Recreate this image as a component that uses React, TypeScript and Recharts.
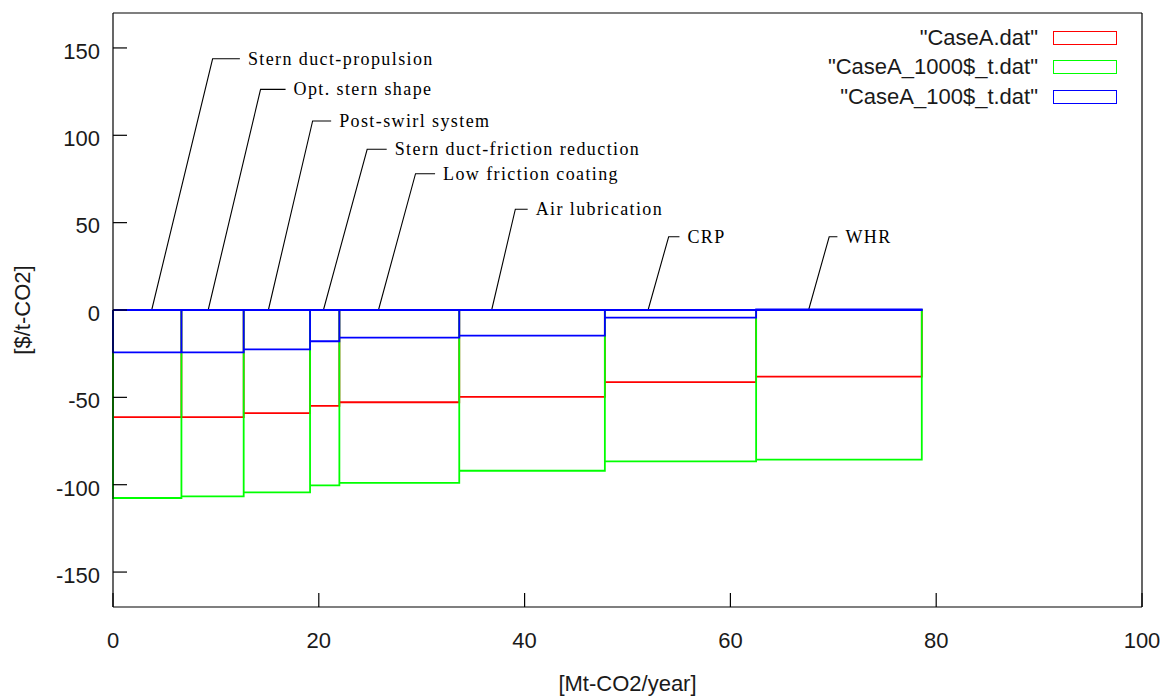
import React from 'react';
import { ComposedChart, Line, XAxis, YAxis, Legend } from 'recharts';

// step boundaries along the x axis [Mt-CO2/year]
const BOUNDS = [0, 6.65, 12.7, 19.15, 22.0, 33.65, 47.8, 62.5, 78.6];

// abatement cost per measure [$/t-CO2]
const CASE_A = [-61.3, -61.3, -59.0, -54.9, -52.8, -49.7, -41.3, -38.1];
const CASE_A_1000 = [-107.6, -106.7, -104.4, -100.4, -99.0, -92.0, -86.7, -85.7];
const CASE_A_100 = [-24.2, -24.2, -22.5, -17.9, -15.8, -14.7, -4.4, 0.4];

const SERIES_NAMES = ['"CaseA.dat"', '"CaseA_1000$_t.dat"', '"CaseA_100$_t.dat"'];
const SERIES_COLORS = ['#ff0000', '#00ff00', '#0000ff'];

// measure labels with leader lines (data coords)
const LABEL_NAMES = [
    'Stern duct-propulsion',
    'Opt. stern shape',
    'Post-swirl system',
    'Stern duct-friction reduction',
    'Low friction coating',
    'Air lubrication',
    'CRP',
    'WHR',
];
const LABEL_BASE_X = [3.76, 9.25, 15.1, 20.45, 25.8, 36.8, 52.0, 67.6];
const LABEL_ELBOW_X = [9.68, 14.34, 19.4, 24.7, 29.4, 39.1, 54.0, 69.6];
const LABEL_ELBOW_Y = [143.8, 126.3, 108.2, 92.0, 78.0, 57.7, 41.9, 41.9];
const LABEL_END_X = [12.33, 16.77, 21.2, 26.6, 31.3, 40.3, 55.05, 70.4];

const X_TICKS = [0, 20, 40, 60, 80, 100];
const Y_TICKS = [-150, -100, -50, 0, 50, 100, 150];

const SANS = '"Liberation Sans", Arial, sans-serif';
const SERIF = '"Liberation Serif", "Times New Roman", serif';
const TEXT = '#1a1a1a';

// outline of the boxes: every box drawn from 0 to its value
function boxPath(values: number[]) {
    const pts: { x: number; y: number }[] = [{ x: BOUNDS[0], y: 0 }];
    values.forEach((v, i) => {
        pts.push({ x: BOUNDS[i], y: v });
        pts.push({ x: BOUNDS[i + 1], y: v });
        pts.push({ x: BOUNDS[i + 1], y: 0 });
    });
    pts.push({ x: BOUNDS[0], y: 0 });
    return pts;
}

const SERIES = [CASE_A, CASE_A_1000, CASE_A_100].map((vals, i) => ({
    name: SERIES_NAMES[i],
    color: SERIES_COLORS[i],
    data: boxPath(vals),
}));

const LEADERS = LABEL_NAMES.map((name, i) => ({
    name,
    data: [
        { x: LABEL_BASE_X[i], y: 0 },
        { x: LABEL_ELBOW_X[i], y: LABEL_ELBOW_Y[i] },
        { x: LABEL_END_X[i], y: LABEL_ELBOW_Y[i] },
    ],
}));

const noTick = () => <g />;

function LegendBox({ payload }: any) {
    const items = SERIES_NAMES.map((n) => (payload || []).find((p: any) => p.value === n)).filter(Boolean);
    return (
        <div>
            {items.map((p: any) => (
                <div key={p.value} style={{ display: 'flex', justifyContent: 'flex-end', alignItems: 'center', height: 29.5 }}>
                    <span style={{ fontFamily: SANS, fontSize: 22, color: TEXT, marginRight: 15, whiteSpace: 'nowrap' }}>{p.value}</span>
                    <span style={{ display: 'inline-block', width: 62, height: 12, border: `1.8px solid ${p.color}` }} />
                </div>
            ))}
        </div>
    );
}

export default function App() {
    return (
        <div style={{ position: 'absolute', left: 0, top: 0, background: '#fff' }}>
            <ComposedChart width={1171} height={700} margin={{ top: 12, right: 28, left: 13, bottom: 33 }}>
                <XAxis xAxisId="b" type="number" dataKey="x" domain={[0, 100]} ticks={X_TICKS} height={60}
                    axisLine={{ stroke: '#000', strokeWidth: 1.2 }} tickLine={{ stroke: '#000', strokeWidth: 1.2 }}
                    tickSize={-14} tickMargin={39} tick={{ fill: TEXT, fontSize: 22, fontFamily: SANS }}
                    label={{
                        content: ({ viewBox }: any) => (
                            <text x={viewBox.x + viewBox.width / 2} y={viewBox.y + 84} textAnchor="middle"
                                fill={TEXT} fontSize={22} fontFamily={SANS}>[Mt-CO2/year]</text>
                        ),
                    }} />
                <XAxis xAxisId="t" orientation="top" type="number" dataKey="x" domain={[0, 100]} ticks={X_TICKS} height={1}
                    axisLine={{ stroke: '#000', strokeWidth: 1.2 }} tickLine={{ stroke: '#000', strokeWidth: 1.2 }}
                    tickSize={-12} tick={noTick} />
                <YAxis yAxisId="l" type="number" domain={[-170, 170]} ticks={Y_TICKS} width={100}
                    axisLine={{ stroke: '#000', strokeWidth: 1.2 }} tickLine={{ stroke: '#000', strokeWidth: 1.2 }}
                    tickSize={-14} tickMargin={27} tick={{ fill: TEXT, fontSize: 22, fontFamily: SANS, dy: 3 }}
                    label={{
                        content: ({ viewBox }: any) => {
                            const cx = viewBox.x + 9;
                            const cy = viewBox.y + viewBox.height / 2;
                            return (
                                <text x={cx} y={cy} transform={`rotate(-90 ${cx} ${cy})`} textAnchor="middle"
                                    dominantBaseline="central" fill={TEXT} fontSize={22} fontFamily={SANS}>[$/t-CO2]</text>
                            );
                        },
                    }} />
                <YAxis yAxisId="r" orientation="right" type="number" domain={[-170, 170]} ticks={Y_TICKS} width={1}
                    axisLine={{ stroke: '#000', strokeWidth: 1.2 }} tickLine={{ stroke: '#000', strokeWidth: 1.2 }}
                    tickSize={-12} tick={noTick} />

                {LEADERS.map((l) => (
                    <Line key={l.name} xAxisId="b" yAxisId="l" data={l.data} dataKey="y" type="linear"
                        stroke="#000" strokeWidth={1.1} dot={false} activeDot={false} legendType="none"
                        isAnimationActive={false}
                        label={(p: any) =>
                            p.index === 2 ? (
                                <text key={l.name} x={p.x + 8} y={p.y + 6} fill="#000" fontSize={18}
                                    fontFamily={SERIF} letterSpacing={1.4}>{l.name}</text>
                            ) : <g key={`${l.name}-${p.index}`} />
                        } />
                ))}

                {SERIES.map((s) => (
                    <Line key={s.name} name={s.name} xAxisId="b" yAxisId="l" data={s.data} dataKey="y" type="linear"
                        stroke={s.color} strokeWidth={1.8} dot={false} activeDot={false} isAnimationActive={false} />
                ))}

                <Legend layout="horizontal" verticalAlign="middle" align="center" content={<LegendBox />}
                    wrapperStyle={{ top: 23, left: 600, width: 517, height: 90 }} />
            </ComposedChart>
        </div>
    );
}
